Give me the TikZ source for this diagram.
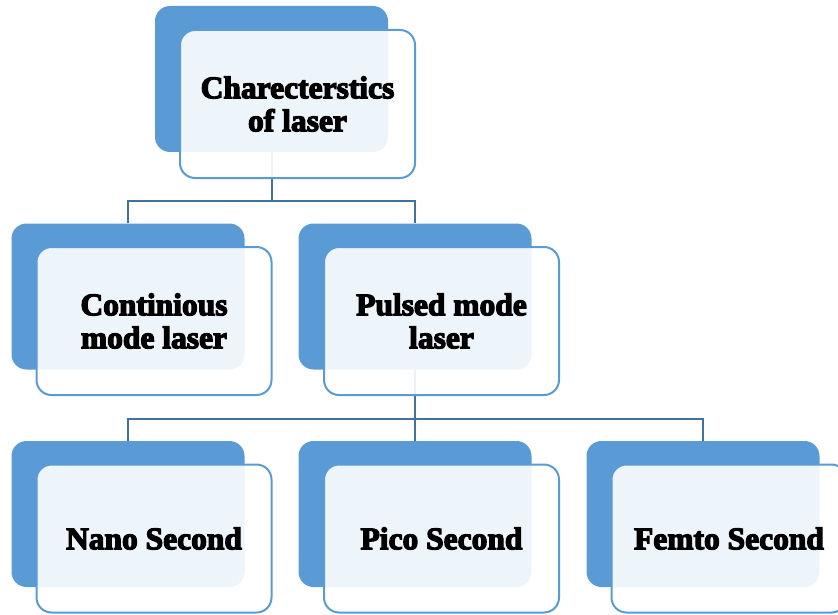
\documentclass[tikz,border=0pt]{standalone}
\usepackage{fontspec}
\setmainfont{Liberation Serif}[BoldFeatures={FakeBold=4}]
\usepackage{tikz}
\usetikzlibrary{backgrounds}

\definecolor{boxblue}{RGB}{91,155,213}
\definecolor{linkblue}{RGB}{65,113,156}

\tikzset{
  backbox/.style={fill=boxblue, rounded corners=15pt, minimum width=233pt,
    minimum height=146pt, inner sep=0pt},
  frontbox/.style={draw=boxblue, line width=2pt, fill=white, fill opacity=0.9,
    text opacity=1, rounded corners=15pt, minimum width=235pt,
    minimum height=148pt, inner sep=0pt, align=center,
    font=\fontsize{31.5}{33}\selectfont\bfseries},
  link/.style={draw=linkblue, line width=2pt}
}

\begin{document}
\begin{tikzpicture}[x=1pt,y=-1pt]
\clip (0,0) rectangle (838,615);

% top level
\node[backbox] (top) at (271.5,79) {};
\node[frontbox] (topf) at (297.5,104) {Charecterstics\\of laser};

% second row
\node[backbox] (cont) at (128,296.5) {};
\node[frontbox] (contf) at (154,321) {Continious\\mode laser};
\node[backbox] (pulsed) at (415,296.5) {};
\node[frontbox] (pulsedf) at (441.5,321) {Pulsed mode\\laser};

% third row
\node[backbox] (nano) at (128,514) {};
\node[frontbox] (nanof) at (154,538.5) {Nano Second};
\node[backbox] (pico) at (415,514) {};
\node[frontbox] (picof) at (441.5,538.5) {Pico Second};
\node[backbox] (femto) at (703,514) {};
\node[frontbox] (femtof) at (729,538.5) {Femto Second};

% connectors
\coordinate (j1) at (271.5,201);
\coordinate (j2) at (415,419);
\begin{pgfonlayer}{background}
\draw[link] (top.south) -- (j1) -| (cont.north);
\draw[link] (j1) -| (pulsed.north);
\draw[link] (pulsed.south) -- (j2) -| (nano.north);
\draw[link] (j2) -- (pico.north);
\draw[link] (j2) -| (femto.north);
\end{pgfonlayer}
\end{tikzpicture}
\end{document}
